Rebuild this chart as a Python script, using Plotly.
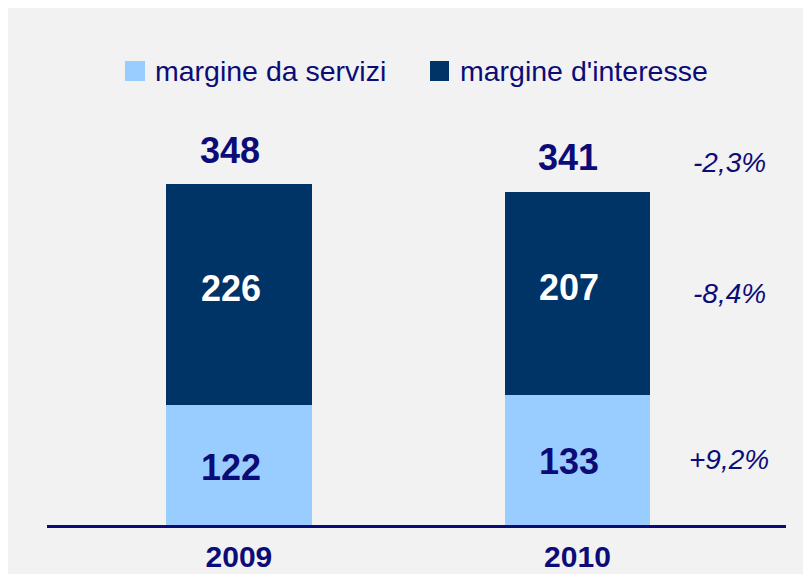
import plotly.graph_objects as go

# ---- data ----
years = ["2009", "2010"]
servizi = [122, 133]
interesse = [226, 207]
totals = [348, 341]
changes_servizi = "+9,2%"
changes_interesse = "-8,4%"
changes_total = "-2,3%"
series_names = ["margine da servizi", "margine d'interesse"]

NAVY = "#0c0c78"
DARK = "#003366"
LIGHT = "#99ccff"
FONT = "Liberation Sans, Arial, sans-serif"

fig = go.Figure()
fig.add_trace(go.Bar(
    x=years, y=servizi, name=series_names[0], marker=dict(color=LIGHT, line=dict(width=0)),
    width=0.431, showlegend=False, hoverinfo="x+y+name"))
fig.add_trace(go.Bar(
    x=years, y=interesse, name=series_names[1], marker=dict(color=DARK, line=dict(width=0)),
    width=0.431, showlegend=False, hoverinfo="x+y+name"))

annotations = []
for i in range(len(years)):
    # segment labels
    annotations.append(dict(x=i, y=servizi[i] / 2, xref="x", yref="y", text="<b>%d</b>" % servizi[i],
                            showarrow=False, xshift=-8, yshift=-2,
                            font=dict(family=FONT, size=36, color=NAVY)))
    annotations.append(dict(x=i, y=servizi[i] + interesse[i] / 2, xref="x", yref="y",
                            text="<b>%d</b>" % interesse[i], showarrow=False, xshift=-8, yshift=6,
                            font=dict(family=FONT, size=36, color="white")))
    # totals above bars
    annotations.append(dict(x=i, y=totals[i], xref="x", yref="y", text="<b>%d</b>" % totals[i],
                            showarrow=False, yanchor="middle", yshift=33, xshift=-9,
                            font=dict(family=FONT, size=36, color=NAVY)))
# percentage changes on the right
pct_x = 1.448
annotations.append(dict(x=pct_x, y=servizi[1] / 2, xref="x", yref="y", text="<i>%s</i>" % changes_servizi,
                        showarrow=False, font=dict(family=FONT, size=28, color=NAVY)))
annotations.append(dict(x=pct_x, y=servizi[1] + interesse[1] / 2, xref="x", yref="y",
                        text="<i>%s</i>" % changes_interesse, showarrow=False,
                        font=dict(family=FONT, size=28, color=NAVY)))
annotations.append(dict(x=pct_x, y=totals[1], xref="x", yref="y", text="<i>%s</i>" % changes_total,
                        showarrow=False, yanchor="middle", yshift=28,
                        font=dict(family=FONT, size=28, color=NAVY)))

# custom legend
leg_items = [(series_names[0], LIGHT, 0.1055, 0.1326, 0.1434),
             (series_names[1], DARK, 0.5183, 0.5440, 0.5562)]
shapes = []
for name, col, x0, x1, tx in leg_items:
    shapes.append(dict(type="rect", xref="paper", yref="paper", x0=x0, x1=x1, y0=1.0447, y1=1.0918,
                       fillcolor=col, line=dict(width=0)))
    annotations.append(dict(x=tx, y=1.068, xref="paper", yref="paper", text=name, showarrow=False,
                            xanchor="left", yanchor="middle",
                            font=dict(family=FONT, size=28.5, color=NAVY)))

fig.update_layout(
    barmode="stack",
    width=803, height=566,
    margin=dict(l=39, r=25, t=92, b=49, autoexpand=False),
    paper_bgcolor="#f2f2f2",
    plot_bgcolor="#f2f2f2",
    showlegend=False,
    annotations=annotations,
    shapes=shapes,
    xaxis=dict(type="category", range=[-0.567, 1.616], showgrid=False, zeroline=False,
               showline=True, linecolor="#0c0c78", linewidth=2.5, ticks="", automargin=False,
               tickfont=dict(family=FONT, size=30, color=NAVY, weight="bold"),
               ticklabelstandoff=3),
    yaxis=dict(range=[0, 433.7], visible=False, showgrid=False, zeroline=False, automargin=False),
)

fig.write_html("out.html")
